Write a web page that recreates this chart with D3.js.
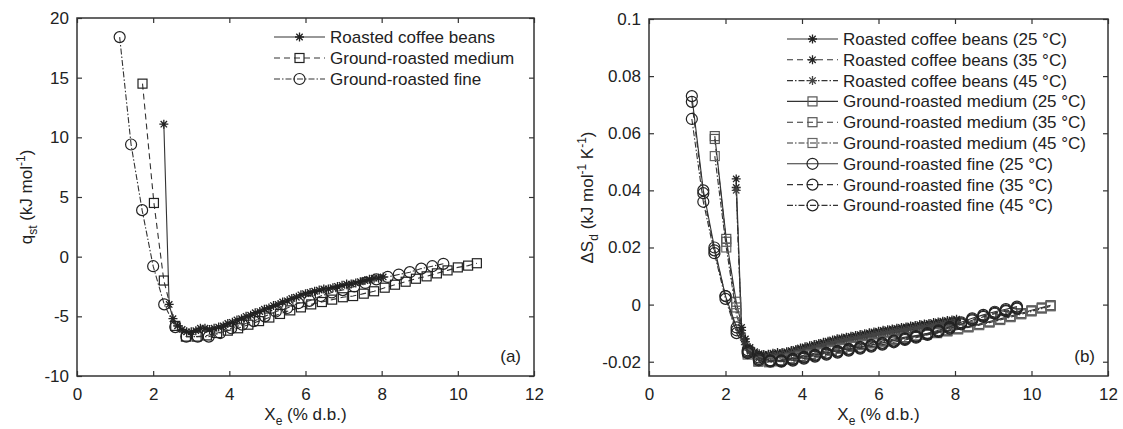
<!DOCTYPE html>
<html>
<head>
<meta charset="utf-8">
<script src="https://cdn.jsdelivr.net/npm/d3@7"></script>
<style>
  body { margin: 0; background: #fff; }
  svg { display: block; font-family: "Liberation Sans", Arial, sans-serif; }
</style>
</head>
<body>
<div id="chart"></div>
<script>
// ---- data ----
const xTicks = [0, 2, 4, 6, 8, 10, 12];
const qstTicks = [-10, -5, 0, 5, 10, 15, 20];
const dsTicks = [-0.02, 0, 0.02, 0.04, 0.06, 0.08, 0.1];

const leftLegend = ["Roasted coffee beans", "Ground-roasted medium", "Ground-roasted fine"];
const rightLegend = [
  "Roasted coffee beans (25 °C)", "Roasted coffee beans (35 °C)", "Roasted coffee beans (45 °C)",
  "Ground-roasted medium (25 °C)", "Ground-roasted medium (35 °C)", "Ground-roasted medium (45 °C)",
  "Ground-roasted fine (25 °C)", "Ground-roasted fine (35 °C)", "Ground-roasted fine (45 °C)"
];

const beansX = [2.28, 2.42, 2.52, 2.64, 2.76, 2.88, 3.00, 3.12, 3.24, 3.36, 3.48, 3.60, 3.72, 3.84, 3.96,
  4.08, 4.20, 4.32, 4.44, 4.56, 4.68, 4.80, 4.92, 5.04, 5.16, 5.28, 5.40, 5.52, 5.64, 5.76, 5.88,
  6.00, 6.12, 6.24, 6.36, 6.48, 6.60, 6.72, 6.84, 6.96, 7.08, 7.20, 7.32, 7.44, 7.56, 7.68, 7.80, 7.92, 8.04];
const beansQst = [11.1, -4.0, -5.2, -5.8, -6.1, -6.3, -6.3, -6.2, -6.0, -6.0, -6.1, -6.0, -5.9, -5.8, -5.6,
  -5.5, -5.3, -5.2, -5.0, -4.9, -4.7, -4.6, -4.4, -4.3, -4.1, -4.0, -3.8, -3.7, -3.5, -3.4, -3.2,
  -3.1, -3.0, -2.9, -2.8, -2.7, -2.7, -2.6, -2.5, -2.4, -2.3, -2.3, -2.2, -2.1, -2.0, -1.9, -1.8, -1.8, -1.7];

const mediumX = [1.72, 2.02, 2.28, 2.58, 2.86, 3.14, 3.41, 3.68, 3.96, 4.23, 4.50, 4.78, 5.05, 5.33, 5.60, 5.88,
  6.15, 6.43, 6.70, 6.98, 7.25, 7.53, 7.80, 8.08, 8.35, 8.63, 8.90, 9.18, 9.45, 9.73, 10.00, 10.27, 10.50];
const mediumQst = [14.5, 4.5, -2.0, -5.8, -6.7, -6.7, -6.6, -6.4, -6.2, -6.0, -5.7, -5.4, -5.1, -4.8, -4.5, -4.25,
  -4.0, -3.8, -3.6, -3.4, -3.3, -3.1, -2.9, -2.6, -2.35, -2.1, -1.85, -1.65, -1.4, -1.15, -0.9, -0.75, -0.55];

const fineX = [1.12, 1.42, 1.71, 2.00, 2.29, 2.58, 2.87, 3.17, 3.46, 3.76, 4.05, 4.34, 4.64, 4.93, 5.22,
  5.52, 5.81, 6.10, 6.40, 6.69, 6.98, 7.28, 7.57, 7.86, 8.16, 8.45, 8.74, 9.04, 9.33, 9.62];
const fineQst = [18.4, 9.4, 3.9, -0.8, -4.0, -5.9, -6.7, -6.7, -6.7, -6.4, -6.0, -5.7, -5.4, -5.0, -4.6,
  -4.3, -3.9, -3.7, -3.3, -3.0, -2.8, -2.5, -2.2, -1.9, -1.7, -1.5, -1.3, -1.0, -0.8, -0.6];

const beansDs25 = [0.044, -0.008, -0.012, -0.015, -0.0165, -0.0172, -0.0175, -0.0174, -0.0170, -0.0168, -0.0168, -0.0165, -0.0161, -0.0157, -0.0152,
  -0.0148, -0.0144, -0.0140, -0.0136, -0.0132, -0.0128, -0.0124, -0.0120, -0.0117, -0.0114, -0.0111, -0.0108, -0.0105, -0.0102, -0.0099, -0.0096,
  -0.0093, -0.0090, -0.0088, -0.0085, -0.0083, -0.0080, -0.0078, -0.0075, -0.0073, -0.0070, -0.0068, -0.0066, -0.0063, -0.0061, -0.0058, -0.0056, -0.0054, -0.0051];
const beansDs35 = [0.041, -0.009, -0.013, -0.0155, -0.017, -0.0177, -0.0180, -0.0178, -0.0175, -0.0173, -0.0172, -0.0169, -0.0165, -0.0161, -0.0157,
  -0.0153, -0.0149, -0.0145, -0.0141, -0.0137, -0.0133, -0.0129, -0.0125, -0.0122, -0.0119, -0.0116, -0.0113, -0.0110, -0.0107, -0.0104, -0.0101,
  -0.0098, -0.0095, -0.0093, -0.0090, -0.0088, -0.0085, -0.0083, -0.0080, -0.0078, -0.0075, -0.0073, -0.0071, -0.0068, -0.0066, -0.0063, -0.0061, -0.0059, -0.0056];
const beansDs45 = [0.040, -0.010, -0.014, -0.016, -0.0175, -0.0182, -0.0185, -0.0183, -0.0180, -0.0178, -0.0177, -0.0174, -0.0170, -0.0166, -0.0162,
  -0.0158, -0.0154, -0.0150, -0.0146, -0.0142, -0.0138, -0.0134, -0.0130, -0.0127, -0.0124, -0.0121, -0.0118, -0.0115, -0.0112, -0.0109, -0.0106,
  -0.0103, -0.0100, -0.0098, -0.0095, -0.0093, -0.0090, -0.0088, -0.0085, -0.0083, -0.0080, -0.0078, -0.0076, -0.0073, -0.0071, -0.0068, -0.0066, -0.0064, -0.0061];

const mediumDs25 = [0.059, 0.023, 0.001, -0.0165, -0.0195, -0.0198, -0.0195, -0.0188, -0.0180, -0.0173, -0.0166, -0.0158, -0.0151, -0.0144, -0.0138, -0.0132,
  -0.0126, -0.0120, -0.0114, -0.0108, -0.0102, -0.0096, -0.0090, -0.0083, -0.0076, -0.0068, -0.0059, -0.0050, -0.0040, -0.0030, -0.0020, -0.0010, -0.0002];
const mediumDs35 = [0.058, 0.022, -0.001, -0.017, -0.0198, -0.0200, -0.0197, -0.0190, -0.0182, -0.0175, -0.0168, -0.0160, -0.0153, -0.0146, -0.0140, -0.0134,
  -0.0128, -0.0122, -0.0116, -0.0110, -0.0104, -0.0098, -0.0092, -0.0085, -0.0078, -0.0070, -0.0061, -0.0052, -0.0042, -0.0032, -0.0022, -0.0012, -0.0004];
const mediumDs45 = [0.052, 0.020, -0.003, -0.0175, -0.0200, -0.0202, -0.0199, -0.0192, -0.0184, -0.0177, -0.0170, -0.0162, -0.0155, -0.0148, -0.0142, -0.0136,
  -0.0130, -0.0124, -0.0118, -0.0112, -0.0106, -0.0100, -0.0094, -0.0087, -0.0080, -0.0072, -0.0063, -0.0054, -0.0044, -0.0034, -0.0024, -0.0014, -0.0006];

const fineDs25 = [0.073, 0.040, 0.020, 0.003, -0.008, -0.016, -0.0185, -0.0195, -0.0195, -0.0190, -0.0183, -0.0176, -0.0169, -0.0162, -0.0155,
  -0.0148, -0.0141, -0.0134, -0.0126, -0.0118, -0.0110, -0.0100, -0.0090, -0.0078, -0.0062, -0.0048, -0.0036, -0.0025, -0.0016, -0.0007];
const fineDs35 = [0.071, 0.039, 0.019, 0.003, -0.009, -0.0165, -0.0190, -0.0197, -0.0198, -0.0193, -0.0186, -0.0179, -0.0172, -0.0165, -0.0158,
  -0.0151, -0.0144, -0.0137, -0.0129, -0.0121, -0.0113, -0.0103, -0.0093, -0.0081, -0.0066, -0.0052, -0.0040, -0.0029, -0.0020, -0.0011];
const fineDs45 = [0.065, 0.036, 0.018, 0.002, -0.010, -0.017, -0.0195, -0.0200, -0.0200, -0.0196, -0.0189, -0.0182, -0.0175, -0.0168, -0.0161,
  -0.0154, -0.0147, -0.0140, -0.0132, -0.0124, -0.0116, -0.0106, -0.0096, -0.0084, -0.0069, -0.0055, -0.0043, -0.0032, -0.0023, -0.0014];

// ---- drawing ----
const width = 1123, height = 429;
const ink = "#222";
const dashes = { solid: null, dash: "6,4", dashdot: "6,2,1.5,2" };

const svg = d3.select("#chart").append("svg")
  .attr("width", width)
  .attr("height", height);

function drawMarker(sel, type, color) {
  if (type == "circle") {
    sel.append("circle").attr("r", 5.5)
      .attr("fill", "none").attr("stroke", color).attr("stroke-width", 1.2);
  } else if (type == "square") {
    sel.append("rect").attr("x", -4.5).attr("y", -4.5).attr("width", 9).attr("height", 9)
      .attr("fill", "none").attr("stroke", color).attr("stroke-width", 1.2);
  } else {
    sel.append("path")
      .attr("d", "M-4.5,0H4.5M0,-4.5V4.5M-3.2,-3.2L3.2,3.2M-3.2,3.2L3.2,-3.2")
      .attr("fill", "none").attr("stroke", color).attr("stroke-width", 1.3);
  }
}

function drawPanel(cfg) {
  let x = d3.scaleLinear().domain([0, 12]).range(cfg.xRange);
  let y = d3.scaleLinear().domain(cfg.yDomain).range(cfg.yRange);
  let g = svg.append("g");

  let [x0, x1] = x.range();
  let [y0, y1] = y.range();

  g.append("g").attr("transform", `translate(0,${y0})`)
    .call(d3.axisBottom(x).tickValues(xTicks).tickSize(-5).tickPadding(12).tickFormat(d => d));
  g.append("g").attr("transform", `translate(0,${y1})`)
    .call(d3.axisTop(x).tickValues(xTicks).tickSize(-5).tickFormat(""));
  g.append("g").attr("transform", `translate(${x0},0)`)
    .call(d3.axisLeft(y).tickValues(cfg.yTicks).tickSize(-5).tickPadding(8).tickFormat(cfg.fmt));
  g.append("g").attr("transform", `translate(${x1},0)`)
    .call(d3.axisRight(y).tickValues(cfg.yTicks).tickSize(-5).tickFormat(""));

  g.selectAll(".domain").remove();
  g.selectAll(".tick line").attr("stroke", "#333").attr("stroke-width", 1.2);
  g.selectAll(".tick text").attr("fill", ink).style("font-size", "17px")
    .style("font-family", "'Liberation Sans', Arial, sans-serif");

  g.append("rect")
    .attr("x", x0).attr("y", y1)
    .attr("width", x1 - x0).attr("height", y0 - y1)
    .attr("fill", "none").attr("stroke", "#333").attr("stroke-width", 1.5);

  let line = d3.line().x(d => x(d[0])).y(d => y(d[1]));

  cfg.series.forEach(s => {
    let pts = s.x.map((v, i) => [v, s.y[i]]).filter(d => d[1] !== undefined);
    g.append("path")
      .attr("d", line(pts))
      .attr("fill", "none")
      .attr("stroke", s.color)
      .attr("stroke-width", 1.1)
      .attr("stroke-dasharray", dashes[s.dash]);
    g.append("g").selectAll("g")
      .data(pts)
      .join("g")
      .attr("transform", d => `translate(${x(d[0])},${y(d[1])})`)
      .each(function () { drawMarker(d3.select(this), s.marker, s.markerColor); });
  });

  // legend
  let lg = g.append("g");
  cfg.series.forEach((s, i) => {
    let ly = cfg.legend.y + i * cfg.legend.step;
    let l0 = cfg.legend.x, l1 = cfg.legend.x + 51;
    lg.append("line")
      .attr("x1", l0).attr("x2", l1).attr("y1", ly).attr("y2", ly)
      .attr("stroke", s.color).attr("stroke-width", 1.1)
      .attr("stroke-dasharray", dashes[s.dash]);
    drawMarker(lg.append("g").attr("transform", `translate(${(l0 + l1) / 2},${ly})`), s.marker, s.markerColor);
    lg.append("text")
      .attr("x", l1 + 5).attr("y", ly)
      .attr("dy", "0.35em")
      .attr("fill", ink)
      .style("font-size", "17px")
      .text(s.name);
  });

  // panel tag
  g.append("text")
    .attr("x", x1 - 13).attr("y", y0 - 14)
    .attr("text-anchor", "end")
    .attr("fill", ink)
    .style("font-size", "17px")
    .text(cfg.tag);

  // x label
  let xl = g.append("text")
    .attr("x", (x0 + x1) / 2).attr("y", 420)
    .attr("text-anchor", "middle")
    .attr("fill", ink)
    .style("font-size", "17px");
  xl.append("tspan").text("X");
  xl.append("tspan").attr("dy", 5).style("font-size", "12px").text("e");
  xl.append("tspan").attr("dy", -5).text(" (% d.b.)");

  // y label
  let yl = g.append("text")
    .attr("transform", `translate(${cfg.yLabelX},${(y0 + y1) / 2}) rotate(-90)`)
    .attr("text-anchor", "middle")
    .attr("fill", ink)
    .style("font-size", "17px");
  cfg.yLabel.forEach(p => {
    let t = yl.append("tspan").text(p.t);
    if (p.sub) t.attr("dy", 5).style("font-size", "12px");
    if (p.sup) t.attr("dy", -7).style("font-size", "12px");
    if (p.back) t.attr("dy", p.back);
  });
}

const fmt = d => String(+d.toFixed(2));

drawPanel({
  xRange: [77, 534],
  yDomain: [-10, 20],
  yRange: [376, 18],
  yTicks: qstTicks,
  fmt: fmt,
  tag: "(a)",
  yLabelX: 32,
  yLabel: [
    { t: "q" }, { t: "st", sub: true }, { t: " (kJ mol", back: -5 },
    { t: "-1", sup: true }, { t: ")", back: 7 }
  ],
  legend: { x: 274, y: 37, step: 21 },
  series: [
    { name: leftLegend[0], x: beansX, y: beansQst, marker: "star", dash: "solid", color: "#333", markerColor: ink },
    { name: leftLegend[1], x: mediumX, y: mediumQst, marker: "square", dash: "dash", color: "#333", markerColor: ink },
    { name: leftLegend[2], x: fineX, y: fineQst, marker: "circle", dash: "dashdot", color: "#333", markerColor: ink }
  ]
});

drawPanel({
  xRange: [649, 1108],
  yDomain: [-0.025, 0.1],
  yRange: [376, 19],
  yTicks: dsTicks,
  fmt: fmt,
  tag: "(b)",
  yLabelX: 593,
  yLabel: [
    { t: "ΔS" }, { t: "d", sub: true }, { t: " (kJ mol", back: -5 },
    { t: "-1", sup: true }, { t: " K", back: 7 }, { t: "-1", sup: true }, { t: ")", back: 7 }
  ],
  legend: { x: 787, y: 39, step: 20.8 },
  series: [
    { name: rightLegend[0], x: beansX, y: beansDs25, marker: "star", dash: "solid", color: "#333", markerColor: ink },
    { name: rightLegend[1], x: beansX, y: beansDs35, marker: "star", dash: "dash", color: "#333", markerColor: ink },
    { name: rightLegend[2], x: beansX, y: beansDs45, marker: "star", dash: "dashdot", color: "#333", markerColor: "#444" },
    { name: rightLegend[3], x: mediumX, y: mediumDs25, marker: "square", dash: "solid", color: "#333", markerColor: "#555" },
    { name: rightLegend[4], x: mediumX, y: mediumDs35, marker: "square", dash: "dash", color: "#333", markerColor: "#555" },
    { name: rightLegend[5], x: mediumX, y: mediumDs45, marker: "square", dash: "dashdot", color: "#333", markerColor: "#666" },
    { name: rightLegend[6], x: fineX, y: fineDs25, marker: "circle", dash: "solid", color: "#333", markerColor: ink },
    { name: rightLegend[7], x: fineX, y: fineDs35, marker: "circle", dash: "dash", color: "#333", markerColor: ink },
    { name: rightLegend[8], x: fineX, y: fineDs45, marker: "circle", dash: "dashdot", color: "#333", markerColor: ink }
  ]
});
</script>
</body>
</html>
